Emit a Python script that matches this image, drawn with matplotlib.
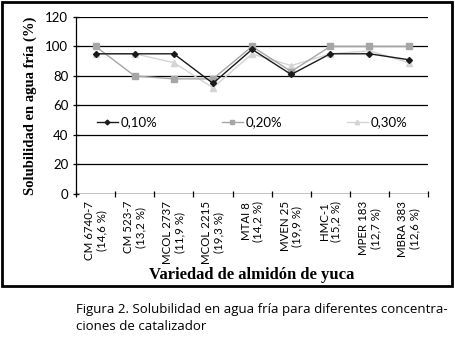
import numpy as np
import matplotlib.pyplot as plt
from matplotlib.patches import Rectangle

variedades = ["CM 6740-7\n(14,6 %)", "CM 523-7\n(13,2 %)", "MCOL 2737\n(11,9 %)",
              "MCOL 2215\n(19,3 %)", "MTAI 8\n(14,2 %)", "MVEN 25\n(19,9 %)",
              "HMC-1\n(15,2 %)", "MPER 183\n(12,7 %)", "MBRA 383\n(12,6 %)"]
c010 = [95, 95, 95, 75, 98, 81, 95, 95, 91]
c020 = [100, 80, 78, 78, 100, 83, 100, 100, 100]
c030 = [95, 95, 89, 72, 95, 87, 95, 97, 89]

fig = plt.figure(figsize=(4.55, 3.38), dpi=100)
ax = fig.add_axes([0.167, 0.426, 0.774, 0.524])

x = np.arange(len(variedades))
ax.plot(x, c010, color='#1a1a1a', marker='D', ms=3, lw=1, label='0,10%', zorder=5)
ax.plot(x, c020, color='#a6a6a6', marker='s', ms=4, lw=1, label='0,20%', zorder=4)
ax.plot(x, c030, color='#d4d4d4', marker='^', ms=4, lw=1, label='0,30%', zorder=3)

ax.set_ylim(0, 120)
ax.set_yticks(range(0, 121, 20))
ax.set_xlim(-0.5, len(variedades) - 0.5)
ax.grid(axis='y', color='black', lw=0.9)
ax.set_axisbelow(True)
for s in ['top', 'right', 'bottom']:
    ax.spines[s].set_visible(False)
ax.spines['left'].set_linewidth(0.9)
ax.axhline(0, color='black', lw=0.9)

ax.set_xticks(x)
ax.set_xticklabels(variedades, rotation=90, fontsize=8.3, family='Lato', linespacing=1.1)
ax.tick_params(axis='x', which='major', length=0, pad=5)
ax.set_xticks(np.arange(-0.5, len(variedades)), minor=True)
ax.tick_params(axis='x', which='minor', length=5, direction='inout', width=0.9)
ax.tick_params(axis='y', length=5, direction='inout', width=0.9, labelsize=9.5, pad=3)
for t in ax.get_yticklabels():
    t.set_family('Lato')

ax.set_ylabel('Solubilidad en agua fría (%)', fontsize=10.5, fontweight='bold',
              family='Liberation Serif', labelpad=6)
ax.set_xlabel('Variedad de almidón de yuca', fontsize=12, fontweight='bold',
              family='Liberation Serif', labelpad=2)

ax.legend(loc='center', bbox_to_anchor=(0.5, 0.405), ncol=3, frameon=False,
          prop={'family': 'Lato', 'size': 9.5}, handlelength=1.6, handletextpad=0.2,
          columnspacing=4.9, markerscale=0.8)

fig.patches.append(Rectangle((2 / 455, 1 - 286 / 338), 450 / 455, 284 / 338,
                             transform=fig.transFigure, fill=False, ec='black', lw=2))

fig.text(76 / 455, 1 - 310 / 338, 'Figura 2. Solubilidad en agua fría para diferentes concentra-',
         fontsize=9.5, family='Open Sans', va='center')
fig.text(76 / 455, 1 - 327 / 338, 'ciones de catalizador',
         fontsize=9.5, family='Open Sans', va='center')

fig.savefig('out.png', dpi=100)
